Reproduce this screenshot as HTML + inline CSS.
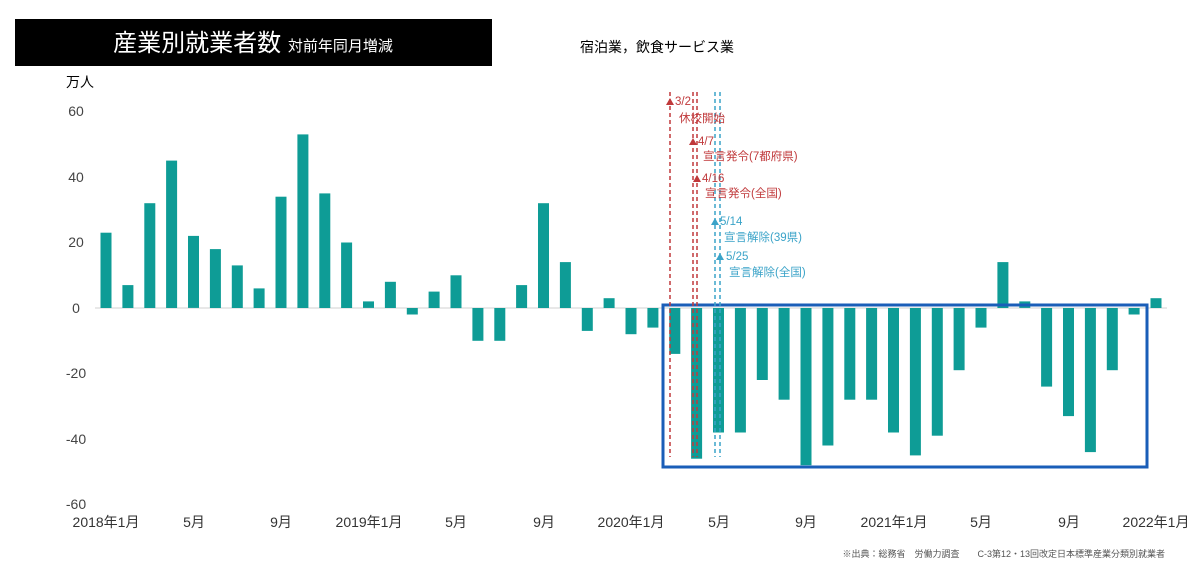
<!DOCTYPE html>
<html><head><meta charset="utf-8"><style>
body{margin:0;background:#fff;}
svg{display:block;font-family:"Liberation Sans","Noto Sans CJK JP",sans-serif;}
</style></head><body>
<svg id="s" width="1200" height="569" viewBox="0 0 1200 569" xmlns="http://www.w3.org/2000/svg">
<rect x="15" y="19" width="477" height="47" fill="#000"/>
<text x="253" y="51" fill="#fff" font-size="24" text-anchor="middle">産業別就業者数 <tspan font-size="15">対前年同月増減</tspan></text>
<text x="580" y="52" font-size="14" fill="#000">宿泊業，飲食サービス業</text>
<text x="66" y="87" font-size="14" fill="#000">万人</text>
<g font-size="14" fill="#444" text-anchor="middle">
<text x="76" y="116">60</text><text x="76" y="182">40</text><text x="76" y="247">20</text><text x="76" y="313">0</text>
<text x="76" y="378">-20</text><text x="76" y="444">-40</text><text x="76" y="509">-60</text>
</g>
<line x1="95" y1="308" x2="1167" y2="308" stroke="#d0d0d0" stroke-width="1"/>
<g id="bars" fill="#0e9c96"></g>
<g font-size="14" fill="#333" text-anchor="middle">
<text x="106" y="527">2018年1月</text><text x="194" y="527">5月</text><text x="281" y="527">9月</text>
<text x="369" y="527">2019年1月</text><text x="456" y="527">5月</text><text x="544" y="527">9月</text>
<text x="631" y="527">2020年1月</text><text x="719" y="527">5月</text><text x="806" y="527">9月</text>
<text x="894" y="527">2021年1月</text><text x="981" y="527">5月</text><text x="1069" y="527">9月</text>
<text x="1156" y="527">2022年1月</text>
</g>
<rect x="663" y="305" width="484" height="162" fill="none" stroke="#1a5eb8" stroke-width="3"/>
<g stroke-dasharray="4,3" stroke-width="1.5">
<line x1="670" y1="92" x2="670" y2="457" stroke="#c0393b"/>
<line x1="693" y1="92" x2="693" y2="457" stroke="#c0393b"/>
<line x1="697" y1="92" x2="697" y2="457" stroke="#c0393b"/>
<line x1="715" y1="92" x2="715" y2="457" stroke="#3aa3c8"/>
<line x1="720" y1="92" x2="720" y2="457" stroke="#3aa3c8"/>
</g>
<g font-size="11.5">
<path d="M666,105 L670,98 L674,105Z" fill="#c0393b"/><text x="675" y="105" fill="#c0393b">3/2</text>
<text x="679" y="122" fill="#c0393b">休校開始</text>
<path d="M689,145 L693,138 L697,145Z" fill="#c0393b"/><text x="698" y="145" fill="#c0393b">4/7</text>
<text x="703" y="160" fill="#c0393b">宣言発令(7都府県)</text>
<path d="M693,182 L697,175 L701,182Z" fill="#c0393b"/><text x="702" y="182" fill="#c0393b">4/16</text>
<text x="705" y="197" fill="#c0393b">宣言発令(全国)</text>
<path d="M711,225 L715,218 L719,225Z" fill="#3aa3c8"/><text x="720" y="225" fill="#3aa3c8">5/14</text>
<text x="724" y="241" fill="#3aa3c8">宣言解除(39県)</text>
<path d="M716,260 L720,253 L724,260Z" fill="#3aa3c8"/><text x="726" y="260" fill="#3aa3c8">5/25</text>
<text x="729" y="276" fill="#3aa3c8">宣言解除(全国)</text>
</g>
<text x="1165" y="557" font-size="9" fill="#555" text-anchor="end">※出典：総務省　労働力調査　　C-3第12・13回改定日本標準産業分類別就業者</text>
</svg>
<script>
var v=[23,7,32,45,22,18,13,6,34,53,35,20,2,8,-2,5,10,-10,-10,7,32,14,-7,3,-8,-6,-14,-46,-38,-38,-22,-28,-48,-42,-28,-28,-38,-45,-39,-19,-6,14,2,-24,-33,-44,-19,-2,3];
var g=document.getElementById('bars'),h='';
for(var i=0;i<v.length;i++){var x=106+21.875*i-5.5,y0=308,hh=Math.abs(v[i])*3.275;var y=v[i]>=0?y0-hh:y0;
h+='<rect x="'+x.toFixed(1)+'" y="'+y.toFixed(1)+'" width="11" height="'+hh.toFixed(1)+'"/>';}
g.innerHTML=h;
</script>
</body></html>
